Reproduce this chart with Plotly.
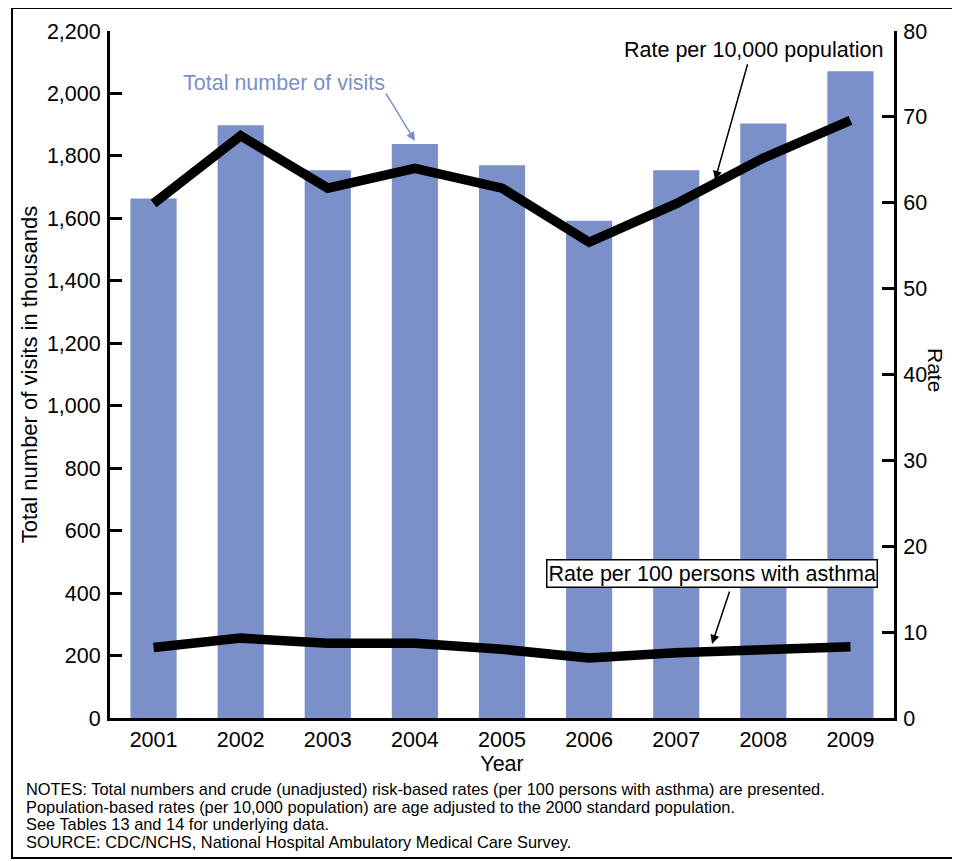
import plotly.graph_objects as go

years = ["2001", "2002", "2003", "2004", "2005", "2006", "2007", "2008", "2009"]
visits_thousands = [1664, 1898, 1754, 1838, 1770, 1592, 1754, 1904, 2071]
rate_per_10000 = [59.9, 67.8, 61.7, 64.0, 61.7, 55.4, 59.9, 65.2, 69.6]
rate_per_100_asthma = [8.2, 9.3, 8.7, 8.7, 8.0, 7.0, 7.6, 8.0, 8.3]

left_ticks = list(range(0, 2201, 200))
right_ticks = list(range(0, 81, 10))

notes = [
    "NOTES: Total numbers and crude (unadjusted) risk-based rates (per 100 persons with asthma) are presented.",
    "Population-based rates (per 10,000 population) are age adjusted to the 2000 standard population.",
    "See Tables 13 and 14 for underlying data.",
    "SOURCE: CDC/NCHS, National Hospital Ambulatory Medical Care Survey.",
]

FONT = "Liberation Sans, Arial, sans-serif"
BAR = "#7b8fc8"

fig = go.Figure()
fig.add_trace(go.Bar(x=years, y=visits_thousands, marker=dict(color=BAR, line=dict(width=0)),
                     width=0.53, yaxis="y", name="Total number of visits"))
fig.add_trace(go.Scatter(x=years, y=rate_per_10000, mode="lines", yaxis="y2",
                         line=dict(color="black", width=9.5), name="Rate per 10,000 population"))
fig.add_trace(go.Scatter(x=years, y=rate_per_100_asthma, mode="lines", yaxis="y2",
                         line=dict(color="black", width=9.5), name="Rate per 100 persons with asthma"))

# page body adds an 8px offset; work in reference-pixel coordinates
OFF = 8
W, H = 960 - OFF, 861 - OFF
PL, PR, PT, PB = 110, 894, 31, 718          # plot area in reference pixels
L, R, T, B = PL - OFF, 960 - PR, PT - OFF, 861 - PB
pw, ph = PR - PL, PB - PT

def px(xp):
    return (xp - PL) / pw

def py(yp):
    return (PB - yp) / ph

FS = 21.5

def label(text, xc, yc, **kw):
    d = dict(text=text, x=px(xc), y=py(yc), xref="paper", yref="paper",
             xanchor="center", yanchor="middle", showarrow=False)
    d.update(kw)
    return d

annotations = [
    label("Total number of visits", 284, 83, font=dict(size=FS, color=BAR, family=FONT)),
    dict(text="", x=3.0, y=1848, xref="x", yref="y", ax=2.657, ay=2005, axref="x", ayref="y",
         showarrow=True, arrowhead=2, arrowsize=1.2, arrowwidth=1.5, arrowcolor=BAR),
    label("Rate per 10,000 population", 753, 50, font=dict(size=FS, color="black", family=FONT)),
    dict(text="", x=6.445, y=62.65, xref="x", yref="y2", ax=6.824, ay=76.3, axref="x", ayref="y2",
         showarrow=True, arrowhead=2, arrowsize=1.2, arrowwidth=1.5, arrowcolor="black"),
    label("Rate per 100 persons with asthma", 711.5, 573.5,
          font=dict(size=FS, color="black", family=FONT),
          bordercolor="black", borderwidth=1.5, borderpad=1, bgcolor="white"),
    dict(text="", x=6.411, y=8.62, xref="x", yref="y2", ax=6.618, ay=14.9, axref="x", ayref="y2",
         showarrow=True, arrowhead=2, arrowsize=1.2, arrowwidth=1.5, arrowcolor="black"),
    label("Rate", 936, 370, textangle=90, font=dict(size=21, color="black", family=FONT)),
]
for i, line in enumerate(notes):
    annotations.append(dict(text=line, x=px(24), y=py(789 + i * 17.7), xref="paper", yref="paper",
                            xanchor="left", yanchor="middle", showarrow=False,
                            font=dict(size=16.4, color="black", family=FONT)))

fig.update_layout(
    width=W, height=H,
    margin=dict(l=L, r=R, t=T, b=B, pad=0),
    paper_bgcolor="white", plot_bgcolor="white",
    showlegend=False,
    font=dict(family=FONT, size=FS, color="black"),
    xaxis=dict(type="category", range=[-0.5, 8.5], showline=True, linewidth=3, linecolor="black",
               ticks="", showgrid=False, zeroline=False, ticklabelstandoff=0,
               title=dict(text="Year", font=dict(size=FS), standoff=6)),
    yaxis=dict(range=[0, 2200], tickvals=left_ticks, tickformat=",", showline=True, linewidth=3,
               linecolor="black", ticks="inside", ticklen=12, tickwidth=3, tickcolor="black",
               showgrid=False, zeroline=False, ticklabelstandoff=2,
               title=dict(text="Total number of visits in thousands", font=dict(size=22), standoff=4)),
    yaxis2=dict(range=[0, 80], tickvals=right_ticks, overlaying="y", side="right", showline=True,
                linewidth=3, linecolor="black", ticks="inside", ticklen=12, tickwidth=3,
                tickcolor="black", showgrid=False, zeroline=False, ticklabelstandoff=2),
    annotations=annotations,
    shapes=[dict(type="rect", xref="paper", yref="paper", x0=px(12), x1=px(955), y0=py(858), y1=py(8),
                 line=dict(color="black", width=2), fillcolor="rgba(0,0,0,0)", layer="below")],
)

fig.write_html("out.html")
